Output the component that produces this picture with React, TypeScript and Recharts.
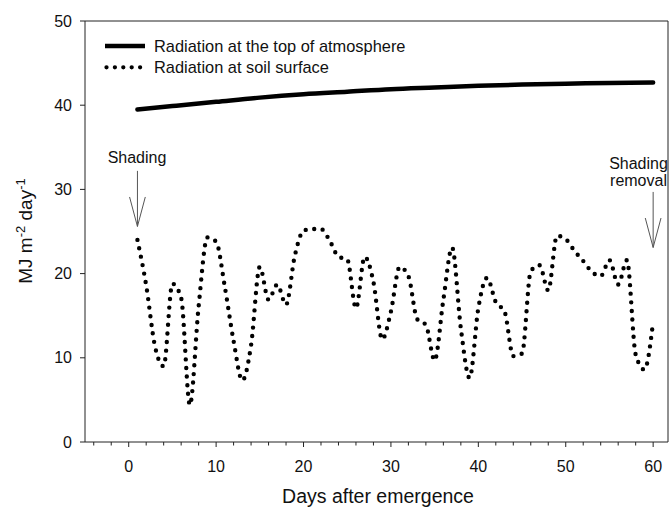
import React from "react"
import { LineChart, Line, XAxis, YAxis, ReferenceLine, Customized } from "recharts"

// days after emergence for the daily soil readings
const soilDays = [
  1, 2, 3, 4, 5, 6, 7, 8, 9, 10, 11, 12, 13, 14, 15, 16, 17, 18, 19, 20,
  21, 22, 23, 24, 25, 26, 27, 28, 29, 30, 31, 32, 33, 34, 35, 36, 37, 38, 39, 40,
  41, 42, 43, 44, 45, 46, 47, 48, 49, 50, 51, 52, 53, 54, 55, 56, 57, 58, 59, 60,
]
const soilValues = [
  24.0, 18.6, 11.4, 9.0, 18.8, 17.1, 4.4, 16.1, 24.3, 23.8, 18.4, 12.0, 7.3, 11.5, 20.8, 16.9, 18.7, 16.3, 22.1, 25.1,
  25.3, 25.3, 23.9, 22.0, 21.7, 15.9, 22.0, 19.0, 12.2, 15.5, 20.8, 19.7, 14.6, 13.9, 9.7, 16.9, 23.1, 13.5, 7.6, 15.9,
  19.5, 16.6, 15.5, 10.2, 10.5, 20.3, 21.0, 18.0, 24.5, 24.1, 22.7, 21.5, 20.2, 19.7, 21.6, 18.7, 21.6, 10.4, 8.6, 14.3,
]

const topDays = [1, 5, 10, 15, 20, 25, 30, 35, 40, 45, 50, 55, 60]
const topValues = [39.5, 39.9, 40.4, 40.9, 41.3, 41.6, 41.9, 42.1, 42.3, 42.45, 42.55, 42.65, 42.7]

const xTicks = [-4, -2, 0, 2, 4, 6, 8, 10, 12, 14, 16, 18, 20, 22, 24, 26, 28, 30, 32, 34, 36, 38, 40, 42, 44, 46, 48, 50, 52, 54, 56, 58, 60]
const yTicks = [0, 10, 20, 30, 40, 50]

const soilData = soilDays.map((d, i) => ({ day: d, value: soilValues[i] }))
const topData = topDays.map((d, i) => ({ day: d, value: topValues[i] }))

const FONT = "Arial, 'Liberation Sans', sans-serif"
const AXIS = "#222"
const ARROW = "#555"

function XTick(props: any) {
  const { x, y, payload } = props
  const major = payload.value % 10 === 0
  return (
    <g>
      <line x1={x} x2={x} y1={y} y2={y + (major ? 5 : 3.5)} stroke={AXIS} strokeWidth={1} />
      {major && (
        <text x={x} y={y + 30} textAnchor="middle" fontSize={16} fill="#111" fontFamily={FONT}>
          {payload.value}
        </text>
      )}
    </g>
  )
}

function Overlay() {
  return (
    <g fontFamily={FONT} fill="#111">
      {/* legend */}
      <line x1={105} x2={145} y1={46} y2={46} stroke="#000" strokeWidth={4.5} />
      <text x={154} y={52} fontSize={16.4}>Radiation at the top of atmosphere</text>
      <line x1={106.5} x2={141} y1={67.3} y2={67.3} stroke="#000" strokeWidth={4.3} strokeDasharray="0 8.4" strokeLinecap="round" />
      <text x={154} y={73} fontSize={16.4}>Radiation at soil surface</text>

      {/* annotations */}
      <text x={137} y={163} fontSize={16} textAnchor="middle">Shading</text>
      <text x={638.5} y={169} fontSize={16} textAnchor="middle">Shading</text>
      <text x={638.5} y={186} fontSize={16} textAnchor="middle">removal</text>

      {/* axis titles */}
      <text x={378} y={503} fontSize={19.5} textAnchor="middle">Days after emergence</text>
      <text transform="translate(32,231) rotate(-90)" fontSize={19} textAnchor="middle">
        MJ m<tspan dy={-7} fontSize={13}>-2</tspan>
        <tspan dy={7}> day</tspan>
        <tspan dy={-7} fontSize={13}>-1</tspan>
      </text>
    </g>
  )
}

export default function App() {
  return (
    <div style={{ position: "absolute", left: 0, top: 0, width: 670, height: 510, background: "#fff" }}>
      <LineChart width={670} height={510} margin={{ top: 21, right: 2, bottom: 0, left: 0 }}>
        <XAxis
          dataKey="day"
          type="number"
          domain={[-5, 61.7]}
          ticks={xTicks}
          interval={0}
          allowDataOverflow
          height={68}
          stroke={AXIS}
          tickSize={0}
          tickMargin={0}
          tickLine={false}
          tick={<XTick />}
        />
        <YAxis
          type="number"
          domain={[0, 50]}
          ticks={yTicks}
          width={85}
          stroke={AXIS}
          tickSize={5}
          tickMargin={8}
          tick={{ fontSize: 16, fill: "#111", fontFamily: FONT }}
        />
        <ReferenceLine y={50} stroke={AXIS} strokeWidth={1} />
        <ReferenceLine x={61.7} stroke={AXIS} strokeWidth={1} />

        {/* shading arrow at day 1 */}
        <ReferenceLine segment={[{ x: 1, y: 32.2 }, { x: 1, y: 25.6 }]} stroke={ARROW} strokeWidth={1} />
        <ReferenceLine segment={[{ x: 0.1, y: 29.1 }, { x: 1, y: 25.6 }]} stroke={ARROW} strokeWidth={1} />
        <ReferenceLine segment={[{ x: 1.9, y: 29.1 }, { x: 1, y: 25.6 }]} stroke={ARROW} strokeWidth={1} />
        {/* shading removal arrow at day 60 */}
        <ReferenceLine segment={[{ x: 60, y: 29.7 }, { x: 60, y: 23.1 }]} stroke={ARROW} strokeWidth={1} />
        <ReferenceLine segment={[{ x: 59.1, y: 26.6 }, { x: 60, y: 23.1 }]} stroke={ARROW} strokeWidth={1} />
        <ReferenceLine segment={[{ x: 60.9, y: 26.6 }, { x: 60, y: 23.1 }]} stroke={ARROW} strokeWidth={1} />

        <Line
          data={topData}
          dataKey="value"
          type="monotone"
          stroke="#000"
          strokeWidth={4.5}
          strokeLinecap="round"
          dot={false}
          isAnimationActive={false}
        />
        <Line
          data={soilData}
          dataKey="value"
          type="monotone"
          stroke="#000"
          strokeWidth={4.4}
          strokeDasharray="0 8.6"
          strokeLinecap="round"
          dot={false}
          isAnimationActive={false}
        />
        <Customized component={<Overlay />} />
      </LineChart>
    </div>
  )
}
